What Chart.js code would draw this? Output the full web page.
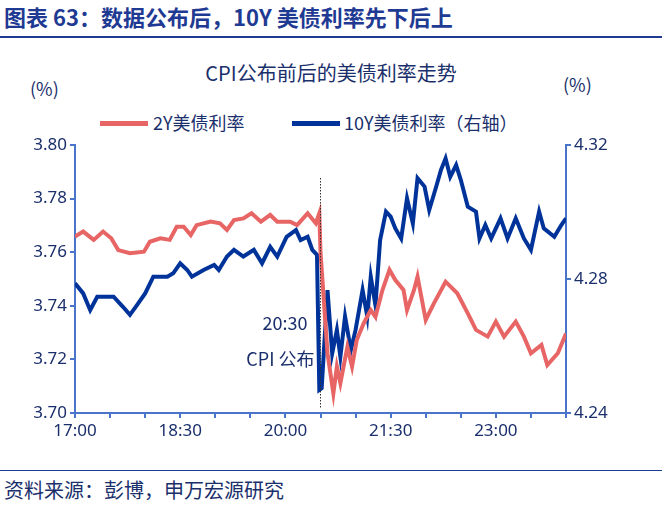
<!DOCTYPE html>
<html><head><meta charset="utf-8">
<script src="https://cdn.jsdelivr.net/npm/chart.js@4.4.0/dist/chart.umd.min.js"></script>
<style>
body{margin:0;width:662px;height:510px;background:#fff;font-family:"Noto Sans CJK SC","Noto Sans",sans-serif;position:relative;overflow:hidden}
.t{position:absolute;white-space:nowrap}
#c{position:absolute;left:0;top:0}
</style></head><body>
<div class="t" style="left:4px;top:0px;font-size:22px;font-weight:bold;color:#1f3a93">图表 63：数据公布后，10Y 美债利率先下后上</div>
<div class="t" style="left:0;top:36px;width:662px;height:2px;background:#1f3a93"></div>
<div class="t" style="left:0;top:58px;width:662px;text-align:center;font-size:20px;color:#1a2f6b">CPI公布前后的美债利率走势</div>
<div class="t" style="left:30px;top:75px;font-size:18px;color:#1a2f6b">(%)</div>
<div class="t" style="left:563px;top:71px;font-size:18px;color:#1a2f6b">(%)</div>
<div class="t" style="left:100px;top:121px;width:48px;height:5px;background:#e86565"></div>
<div class="t" style="left:153px;top:109px;font-size:18px;color:#1a2f6b">2Y美债利率</div>
<div class="t" style="left:292px;top:121px;width:48px;height:5px;background:#00339a"></div>
<div class="t" style="left:344px;top:109px;font-size:18px;color:#1a2f6b">10Y美债利率（右轴）</div>
<div class="t" style="left:0;top:470px;width:662px;height:1px;background:#1f3a93"></div>
<div class="t" style="left:4px;top:475px;font-size:20px;color:#1a2f6b">资料来源：彭博，申万宏源研究</div>
<canvas id="c" width="662" height="510"></canvas>
<script>
const xTickLabels={0:"17:00",90:"18:30",180:"20:00",270:"21:30",360:"23:00"};
const redTimes=[0,7,16,24,31,37,47,59,64,73,81,87,93,99,104,116,124,130,136,144,151,159,167,173,184,190,199,206,209,210,216,221,224,227,233,237,241,247,253,257,263,269,274,281,284,290,293,300,307,317,327,336,343,353,360,367,377,384,390,399,404,413,420];
const red=[3.7658,3.7677,3.7646,3.7677,3.7652,3.7608,3.7596,3.7602,3.7639,3.7652,3.7646,3.7695,3.7695,3.7664,3.7701,3.7714,3.7708,3.7683,3.7720,3.7726,3.7745,3.7714,3.7739,3.7714,3.7714,3.7701,3.7745,3.7708,3.7745,3.7600,3.7223,3.7073,3.7173,3.7111,3.7247,3.7173,3.7272,3.7335,3.7384,3.7359,3.7459,3.7534,3.7496,3.7459,3.7384,3.7459,3.7509,3.7347,3.7409,3.7490,3.7447,3.7372,3.7310,3.7285,3.7341,3.7285,3.7341,3.7285,3.7223,3.7254,3.7179,3.7223,3.7297];
const blueTimes=[0,7,13,19,33,41,47,53,60,67,79,84,90,96,100,110,119,123,130,136,144,153,160,167,173,181,189,193,199,203,207,209,211,216,220,224,227,231,236,240,246,250,253,257,261,266,270,274,279,284,289,293,299,303,309,313,317,321,326,330,336,343,346,351,356,364,370,377,384,390,397,401,410,416,420];
const blue=[4.2787,4.2757,4.2707,4.2747,4.2747,4.2717,4.2693,4.2722,4.2757,4.2807,4.2807,4.2817,4.2847,4.2827,4.2807,4.2827,4.2842,4.2827,4.2867,4.2887,4.2867,4.2887,4.2847,4.2896,4.2867,4.2926,4.2946,4.2916,4.2926,4.2887,4.2872,4.2469,4.2474,4.2767,4.2578,4.2648,4.2568,4.2688,4.2588,4.2648,4.2767,4.2688,4.2807,4.2722,4.2916,4.3001,4.2986,4.2951,4.2921,4.3041,4.2966,4.3101,4.3076,4.3006,4.3076,4.3125,4.3160,4.3105,4.3140,4.3096,4.3016,4.3001,4.2921,4.2961,4.2921,4.2981,4.2921,4.2981,4.2921,4.2887,4.3001,4.2951,4.2926,4.2961,4.2981];
const cpiTime=210;
const axisColor="#4a74c9",txt="#1a2f6b";
const toXY=(t,v)=>t.map((x,i)=>({x,y:v[i]}));
const annot={id:"annot",afterDatasetsDraw(ch){
  const ctx=ch.ctx,x=ch.scales.x.getPixelForValue(cpiTime);
  ctx.save();ctx.strokeStyle="#333";ctx.lineWidth=1;ctx.setLineDash([1.5,1.5]);
  ctx.beginPath();ctx.moveTo(x,178);ctx.lineTo(x,409);ctx.stroke();ctx.restore();
  ctx.save();ctx.fillStyle=txt;ctx.font='18px "Noto Sans CJK SC"';ctx.textAlign="right";ctx.textBaseline="middle";
  ctx.fillText("20:30",x-13,323);ctx.fillText("CPI 公布",x-6,359);ctx.restore();
}};
new Chart(document.getElementById("c"),{type:"line",
 data:{datasets:[
  {data:toXY(redTimes,red),yAxisID:"y",borderColor:"#e86565",borderWidth:4,pointRadius:0,tension:0},
  {data:toXY(blueTimes,blue),yAxisID:"y1",borderColor:"#00339a",borderWidth:4,pointRadius:0,tension:0}]},
 options:{responsive:false,animation:false,events:[],
  layout:{padding:{top:145,left:0,right:0,bottom:0}},
  plugins:{legend:{display:false},title:{display:false},tooltip:{enabled:false}},
  scales:{
   x:{type:"linear",min:0,max:420,afterFit(s){s.height=97},
      border:{color:axisColor,width:2},
      grid:{drawOnChartArea:false,color:axisColor,tickLength:5,lineWidth:2},
      ticks:{stepSize:30,autoSkip:false,maxRotation:0,color:txt,font:{size:17,family:"Noto Sans"},padding:3,
        callback:v=>xTickLabels[v]||""}},
   y:{position:"left",min:3.70,max:3.80,afterFit(s){s.width=75},
      border:{color:axisColor,width:2},
      grid:{drawOnChartArea:false,color:axisColor,tickLength:5,lineWidth:2},
      ticks:{stepSize:0.02,color:txt,font:{size:17,family:"Noto Sans"},callback:v=>v.toFixed(2)}},
   y1:{position:"right",min:4.24,max:4.32,afterFit(s){s.width=96},
      border:{color:axisColor,width:2},
      grid:{drawOnChartArea:false,color:axisColor,tickLength:5,lineWidth:2},
      ticks:{stepSize:0.04,color:txt,font:{size:17,family:"Noto Sans"},callback:v=>v.toFixed(2)}}
  }},
 plugins:[annot]});
</script></body></html>
